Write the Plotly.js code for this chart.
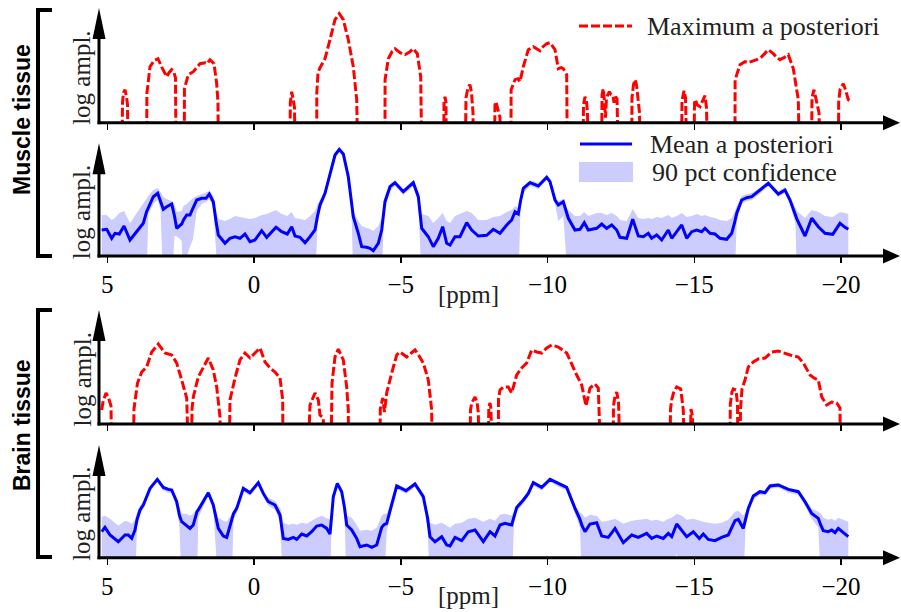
<!DOCTYPE html>
<html><head><meta charset="utf-8">
<script src="https://cdn.plot.ly/plotly-3.0.1.min.js"></script>
<style>html,body{margin:0;padding:0;background:#fff}#chart{width:901px;height:612px}</style>
</head><body><div id="chart"></div>
<script>
// ---------------- DATA (ppm vs log amplitude, arbitrary units) ----------------
const tickValues = [5, 0, -5, -10, -15, -20];
const groupLabels = ["Muscle tissue", "Brain tissue"];
const legendLabels = ["Maximum a posteriori", "Mean a posteriori", "90 pct confidence"];

// Muscle tissue, maximum a posteriori (values of -30 lie far below the visible range)
const mapMuscleX = [4.497,4.48,4.446,4.395,4.344,4.31,4.293,
 3.656,3.65,3.543,3.407,3.271,3.135,2.974,2.896,2.804,2.726,2.675,2.658,
 2.375,2.37,2.239,2.068,1.942,1.840,1.670,1.601,1.499,1.363,1.271,1.227,1.216,
 -1.227,-1.237,-1.285,-1.329,-1.380,-1.397,
 -2.136,-2.14,-2.181,-2.249,-2.419,-2.589,-2.760,-2.906,-3.043,-3.213,-3.383,-3.499,-3.533,
 -4.463,-4.466,-4.576,-4.702,-4.804,-4.974,-5.145,-5.315,-5.428,-5.564,-5.680,-5.714,
 -6.467,-6.474,-6.508,-6.542,-6.552,
 -7.199,-7.223,-7.291,-7.359,-7.411,-7.462,-7.472,
 -8.194,-8.211,-8.245,-8.313,-8.382,-8.392,
 -8.756,-8.76,-8.893,-8.995,-9.063,-9.176,-9.346,-9.516,-9.642,-9.744,-9.847,-9.973,-10.085,-10.187,-10.256,-10.368,-10.460,-10.538,-10.654,-10.675,
 -11.210,-11.227,-11.278,-11.329,-11.363,-11.380,
 -11.847,-11.857,-11.901,-11.942,-11.976,-12.010,-12.106,-12.164,-12.232,-12.266,-12.317,-12.368,-12.402,-12.412,
 -12.869,-12.879,-12.930,-12.981,-13.032,-13.083,-13.135,-13.152,
 -14.566,-14.583,-14.651,-14.702,-14.736,-14.746,
 -14.991,-15.009,-15.043,-15.094,-15.196,-15.264,-15.366,-15.417,-15.451,
 -16.388,-16.392,-16.559,-16.729,-16.831,-16.957,-17.128,-17.298,-17.411,-17.523,-17.693,-17.819,-17.922,-18.058,-18.204,-18.296,-18.375,-18.545,-18.579,
 -18.995,-19.012,-19.080,-19.172,-19.250,-19.284,
 -19.915,-19.92,-19.966,-20.078,-20.153,-20.249,-20.307];
const mapMuscleY = [-30,20,30,33,26,18,-30,
 -30,29,56,62,64,55,46,50,53,50,45,-30,
 -30,34,48,51,56,59,60,59,63,59,39,20,-30,
 -30,20,31,24,15,-30,
 -30,30,50,55,64,83,103,109,103,83,56,23,-30,
 -30,43,64,71,74,70,68,71,74,69,46,-30,
 -30,20,26,20,-30,
 -30,25,35,38,30,10,-30,
 -30,18,21,14,5,-30,
 -30,33,43,44,41,56,73,76,74,72,76,79,80,76,73,54,55,54,48,-30,
 -30,18,26,22,10,-30,
 -30,28,34,20,5,25,31,28,27,20,26,24,10,-30,
 -30,25,38,43,38,25,10,-30,
 -30,22,32,25,5,-30,
 -30,20,23,18,16,20,27,15,-30,
 -30,43,58,61,60,61,63,66,70,73,69,65,63,65,68,60,54,23,-30,
 -30,25,33,21,10,-30,
 -30,20,33,39,33,23,22];

// Muscle tissue, mean a posteriori with 90 pct band (10 points per line)
const meanMuscleX = [
 5.189,5.019,4.848,4.736,4.589,4.429,4.225,3.997,3.772,3.663,
 3.601,3.431,3.281,3.186,3.090,2.974,2.804,2.709,2.634,2.463,
 2.402,2.293,2.181,2.078,1.952,1.782,1.635,1.523,1.387,1.295,
 1.216,0.988,0.818,0.647,0.477,0.307,0.136,-0.034,-0.262,-0.433,
 -0.750,-0.944,-1.135,-1.285,-1.397,-1.567,-1.738,-1.908,-2.078,-2.164,
 -2.249,-2.419,-2.589,-2.760,-2.906,-3.043,-3.213,-3.322,-3.383,-3.554,
 -3.670,-3.840,-3.952,-4.065,-4.235,-4.351,-4.412,-4.463,-4.634,-4.804,
 -5.087,-5.428,-5.598,-5.673,-5.714,-5.939,-6.109,-6.279,-6.429,-6.566,
 -6.678,-6.848,-7.019,-7.247,-7.417,-7.642,-7.928,-8.153,-8.382,-8.610,
 -8.780,-8.893,-9.005,-9.080,-9.176,-9.404,-9.687,-9.973,-10.085,-10.256,
 -10.368,-10.538,-10.648,-10.709,-10.937,-11.107,-11.254,-11.390,-11.676,-11.847,
 -12.017,-12.188,-12.358,-12.470,-12.699,-12.903,-13.094,-13.264,-13.434,-13.550,
 -13.721,-13.891,-14.116,-14.232,-14.402,-14.573,-14.743,-14.913,-15.084,-15.254,
 -15.366,-15.537,-15.707,-15.877,-16.106,-16.276,-16.372,-16.447,-16.617,-16.787,
 -16.958,-17.183,-17.523,-17.864,-18.092,-18.262,-18.450,-18.501,-18.774,-19.002,
 -19.227,-19.455,-19.717,-19.966,-20.137,-20.249];
const meanMuscleY = [
 26,26.7,17.7,22.7,22,30,16,24.3,32.7,44,
 47.7,59.3,62.7,55,46.7,49.3,52,40,27.7,32,
 36,41,41,48,56,57.7,57.7,62,54.3,35,
 21,12.7,17.7,19.3,17.7,22,14.3,16,25.3,18.7,
 28.7,24.3,22,29.3,20,18.7,13.3,19.3,26,40,
 51,62.7,82.7,101,106.7,102,79.3,55,39.3,22.7,
 9.3,8.7,7.7,5.3,12.7,26,40,54.3,69.3,73.3,
 64.3,73.3,59.3,40,27.7,19.3,9.3,17.7,29.3,12.7,
 11,19.3,19.3,33.3,26,20,20.7,26.7,22.7,31,
 36,44.3,42,55,67.7,73.3,70,78.7,74.3,56,
 51,54.3,42,37.7,26,26.7,33.3,26,27.7,32,
 27.7,31,26,18.7,17.7,36.7,20,19.3,22.7,17.7,
 21,16,26,17.7,24.3,31,17.7,24.3,26,24.3,
 27.7,22.7,22,17.7,16.7,22.7,33,42.7,56,58.3,
 59.3,64.3,72.7,62,66,56,40,36.7,20,37.7,
 29.3,22.7,21.7,32.7,28.7,26.7];
const upperMuscleY = [
 41,41,36,38,43,45,33,43,52,57,
 60,66,68,64,59,57,55,52,44,45,
 50,52,55,58,60,62,63,65,60,45,
 37,35,37,40,39,38,37,38,41,42,
 46,42,40,44,38,37,36,40,45,52,
 56,66,85,103,108,104,82,60,45,35,
 30,28,27,25,30,38,50,60,72,76,
 67,76,63,50,42,40,33,38,43,35,
 33,40,42,45,43,36,36,39,40,44,
 46,50,48,60,70,76,73,81,77,60,
 55,57,48,46,40,40,44,40,43,43,
 41,43,40,36,35,47,38,37,38,37,
 39,38,41,38,40,43,39,40,42,40,
 41,39,38,36,35,38,44,50,60,62,
 63,67,75,65,69,60,48,45,38,46,
 44,40,39,44,43,42];
const lowerMuscleY = [
 -30,-30,-30,-30,-30,-30,-30,-30,-30,-30,
 42,52,56,46,-30,-30,-30,20,20,15,
 -30,0,10,17,45,52,54,57,48,-30,
 -30,-30,-30,-30,-30,-30,-30,-30,-30,-30,
 -30,-30,-30,-30,-30,-30,-30,-30,-30,30,
 45,58,79,98,104,99,75,48,-30,-30,
 -30,-30,-30,-30,-30,-30,30,48,65,70,
 61,70,55,-30,-30,-30,-30,-30,-30,-30,
 -30,-30,-30,-30,-30,-30,-30,-30,-30,-30,
 -30,-30,-30,48,63,70,67,76,71,52,
 35,40,-30,-30,-30,-30,-30,-30,-30,-30,
 -30,-30,-30,-30,-30,-30,-30,-30,-30,-30,
 -30,-30,-30,-30,-30,-30,-30,-30,-30,-30,
 -30,-30,-30,-30,-30,-30,-30,35,52,55,
 56,61,70,59,63,52,32,-30,-30,-30,
 -30,-30,-30,-30,-30,-30];

// Brain tissue, maximum a posteriori
const mapBrainX = [5.189,5.145,5.043,4.964,4.872,4.848,
 4.112,4.089,3.969,3.826,3.656,3.486,3.261,3.032,2.804,2.634,2.463,2.293,2.239,
 2.129,2.112,2.068,1.898,1.727,1.557,1.387,1.271,1.158,1.135,
 0.842,0.818,0.647,0.477,0.307,0.136,-0.034,-0.204,-0.375,-0.545,-0.716,-0.886,-0.978,-0.988,
 -1.850,-1.908,-2.078,-2.191,-2.249,-2.361,-2.385,
 -2.624,-2.658,-2.760,-2.872,-3.043,-3.158,-3.213,-3.220,
 -4.293,-4.303,-4.385,-4.446,-4.480,-4.521,-4.692,-4.862,-4.974,-5.203,-5.315,-5.486,-5.588,-5.768,-5.939,-6.055,-6.065,
 -7.359,-7.376,-7.417,-7.530,-7.598,-7.642,-7.666,
 -7.983,-8.000,-8.041,-8.075,-8.099,
 -8.324,-8.33,-8.382,-8.494,-8.664,-8.780,-8.951,-9.121,-9.291,-9.462,-9.632,-9.802,-9.973,-10.143,-10.368,-10.654,-10.825,-10.995,-11.165,-11.312,-11.448,-11.618,-11.731,-11.789,-11.806,
 -12.232,-12.249,-12.300,-12.358,-12.419,-12.453,-12.470,
 -14.174,-14.191,-14.232,-14.310,-14.402,-14.538,-14.627,-14.668,
 -14.855,-14.866,-14.889,-14.940,-14.957,
 -16.218,-16.228,-16.286,-16.331,-16.422,-16.474,-16.491,-16.559,-16.576,-16.627,-16.729,-16.842,-17.012,-17.182,-17.411,-17.639,-17.864,-18.034,-18.262,-18.545,-18.716,-18.944,-19.080,-19.227,-19.343,-19.513,-19.684,-19.854,-19.966,-19.983];
const mapBrainY = [14,22,31,27,18,-30,
 -30,15,41,52,57,72,80,71,69,61,44,26,-30,
 -30,15,27,47,57,66,54,37,7,-30,
 -30,24,46,64,71,66,71,76,62,56,52,46,24,-30,
 -30,19,31,24,9,6,-30,
 -30,41,67,75,64,37,14,-30,
 -30,15,26,12,20,31,51,69,72,67,70,74,70,61,44,14,-30,
 -30,14,21,27,22,12,-30,
 -30,17,21,15,-30,
 -30,25,34,37,37,31,49,56,61,74,72,71,76,79,77,71,59,49,39,18,36,40,36,7,-30,
 -30,18,28,32,22,8,-30,
 -30,15,24,33,37,35,14,-30,
 -30,12,15,8,-30,
 -30,20,32,35,34,20,-30,-30,15,35,44,57,62,65,66,72,73,71,69,67,61,49,46,44,27,19,22,21,16,-30];

// Brain tissue, mean a posteriori with 90 pct band (10 points per line)
const meanBrainX = [
 5.189,5.077,4.906,4.624,4.395,4.283,4.167,4.055,3.986,3.884,
 3.772,3.543,3.295,3.090,2.920,2.804,2.634,2.538,2.463,2.317,
 2.181,2.068,1.942,1.898,1.727,1.557,1.387,1.295,1.216,1.046,
 0.930,0.760,0.698,0.589,0.365,0.136,-0.147,-0.317,-0.487,-0.716,
 -0.886,-0.971,-0.998,-1.169,-1.339,-1.455,-1.625,-1.796,-1.966,-2.136,
 -2.307,-2.477,-2.589,-2.641,-2.702,-2.838,-2.988,-3.084,-3.158,-3.329,
 -3.499,-3.612,-3.840,-4.010,-4.181,-4.351,-4.429,-4.521,-4.692,-4.862,
 -5.179,-5.486,-5.768,-5.912,-5.997,-6.167,-6.395,-6.566,-6.678,-6.848,
 -7.077,-7.302,-7.530,-7.813,-8.041,-8.211,-8.382,-8.552,-8.780,-8.859,
 -8.951,-9.176,-9.346,-9.516,-9.802,-10.085,-10.368,-10.654,-10.937,-11.107,
 -11.176,-11.278,-11.448,-11.676,-11.847,-12.072,-12.300,-12.583,-12.869,-13.094,
 -13.380,-13.550,-13.721,-13.946,-14.116,-14.232,-14.402,-14.573,-14.743,-14.968,
 -15.172,-15.309,-15.479,-15.707,-15.935,-16.160,-16.389,-16.501,-16.671,-16.746,
 -16.842,-17.012,-17.240,-17.411,-17.581,-17.864,-18.204,-18.545,-18.774,-19.002,
 -19.227,-19.319,-19.397,-19.568,-19.683,-19.796,-19.908,-20.079,-20.249];
const meanBrainY = [
 26,30.3,22.7,16,22.7,22.7,19.3,27.7,38,47.7,
 52.7,69.3,78.3,70.3,68.3,67.7,56,42,36,32.7,
 29.3,32.7,46,47.7,56,65,52.7,40,29.3,21.7,
 20.3,37.7,44,49.3,69.3,65,75,64.3,56,52.7,
 42.7,25,19.3,18.3,20.3,18.3,23.7,21.7,26,31.7,
 32.7,29.3,23.7,40,61,74.3,66,50,32.7,27.7,
 19.3,11,12.7,10.3,12.7,30.3,33,34.3,54.3,71.7,
 67,73.7,61,40,21,16,21,12.7,11.7,20.3,
 17,26,27.7,16,26,21.7,32.7,34.3,32.7,42,
 50.3,57.7,64.3,75,70.3,78.3,74.3,70.3,49.3,38.3,
 32,26,33.7,35,21.7,20.3,29.3,15,22.7,20.3,
 24.3,19.3,21.7,19.3,24.3,21,33.7,27.7,21,26,
 19.3,23.7,18.3,17,20.3,22.7,37,38.3,29.3,38,
 49.3,61.7,66,65,71.7,72.7,68.3,66,56,44.3,
 39.3,32,27,26,27.7,25,29.3,25,21];
const upperBrainY = [
 41,42,39,32,37,36,34,38,45,52,
 56,72,80,72,70,70,60,50,44,44,
 42,44,50,52,59,67,56,46,40,37,
 36,44,48,52,71,67,77,67,60,57,
 50,40,35,33,34,33,35,34,37,40,
 42,40,38,48,64,76,68,55,42,40,
 33,27,28,27,30,42,44,44,58,74,
 69,76,64,46,35,33,35,32,30,34,
 35,39,40,36,39,37,43,44,42,46,
 53,60,67,77,72,80,76,72,53,45,
 44,40,43,42,36,37,39,34,37,38,
 39,37,38,36,39,40,44,42,38,39,
 37,36,35,34,35,38,46,47,42,46,
 53,64,68,67,74,75,70,68,59,49,
 46,44,40,38,39,37,40,38,36];
const lowerBrainY = [
 -30,-30,-30,-30,-30,-30,-30,-30,30,43,
 49,66,76,67,65,64,50,30,-30,-30,
 -30,-30,-30,40,52,62,48,-30,-30,-30,
 -30,-30,38,45,66,62,72,61,52,48,
 36,-30,-30,-30,-30,-30,-30,-30,-30,-30,
 -30,-30,-30,30,56,72,62,40,-30,-30,
 -30,-30,-30,-30,-30,-30,-30,25,50,69,
 64,71,57,30,-30,-30,-30,-30,-30,-30,
 -30,-30,-30,-30,-30,-30,-30,-30,-30,35,
 46,54,61,72,67,76,71,67,45,30,
 -30,-30,-30,-30,-30,-30,-30,-30,-30,-30,
 -30,-30,-30,-30,-30,-30,5,-30,-30,-30,
 -30,-30,-30,-30,-30,-30,-30,-30,-30,30,
 45,58,63,62,69,70,65,63,52,39,
 30,-30,-30,-30,-30,-30,-30,-30,-30];

// ---------------- LAYOUT HELPERS (pixel geometry) ----------------
const W = 901, H = 612;
const fx = p => p / W, fy = p => 1 - p / H;
const X0 = 99, X1 = 885;                  // plot x extent in px
const panels = [ {ax:122.7, top:8}, {ax:256, top:143.3}, {ax:424, top:310}, {ax:557.7, top:445} ];
const xRange = [(254 - X0) / 29.35, (254 - X1) / 29.35];

const RED = 'rgb(255,0,0)', BLUE = 'rgb(0,0,255)', BAND = 'rgb(204,204,255)';
const SERIF = 'Liberation Serif, Times New Roman, serif';

const traces = [
  {x: mapMuscleX, y: mapMuscleY, xaxis:'x', yaxis:'y', mode:'lines', line:{color:RED, width:3, dash:'9px,3px'}, hoverinfo:'skip'},
  {x: meanMuscleX, y: upperMuscleY, xaxis:'x2', yaxis:'y2', mode:'lines', line:{width:0, color:BAND}, hoverinfo:'skip'},
  {x: meanMuscleX, y: lowerMuscleY, xaxis:'x2', yaxis:'y2', mode:'lines', line:{width:0, color:BAND}, fill:'tonexty', fillcolor:BAND, hoverinfo:'skip'},
  {x: meanMuscleX, y: meanMuscleY, xaxis:'x2', yaxis:'y2', mode:'lines', line:{color:BLUE, width:3}, hoverinfo:'skip'},
  {x: mapBrainX, y: mapBrainY, xaxis:'x3', yaxis:'y3', mode:'lines', line:{color:RED, width:3, dash:'9px,3px'}, hoverinfo:'skip'},
  {x: meanBrainX, y: upperBrainY, xaxis:'x4', yaxis:'y4', mode:'lines', line:{width:0, color:BAND}, hoverinfo:'skip'},
  {x: meanBrainX, y: lowerBrainY, xaxis:'x4', yaxis:'y4', mode:'lines', line:{width:0, color:BAND}, fill:'tonexty', fillcolor:BAND, hoverinfo:'skip'},
  {x: meanBrainX, y: meanBrainY, xaxis:'x4', yaxis:'y4', mode:'lines', line:{color:BLUE, width:3}, hoverinfo:'skip'}
];

const layout = {
  width: W, height: H, margin:{l:0,r:0,t:0,b:0}, showlegend:false,
  paper_bgcolor:'#fff', plot_bgcolor:'rgba(0,0,0,0)',
  shapes: [], annotations: []
};
panels.forEach((p, i) => {
  const n = i === 0 ? '' : String(i + 1);
  layout['xaxis' + n] = {
    domain:[fx(X0), fx(X1)], range:xRange, anchor:'y' + n,
    tickmode:'array', tickvals:tickValues, ticks:'outside', ticklen:6, tickwidth:1.5, tickcolor:'#000',
    showticklabels: (i === 1 || i === 3), tickfont:{family:SERIF, size:25, color:'#000'},
    showline:false, zeroline:false, showgrid:false, fixedrange:true
  };
  layout['yaxis' + n] = {
    domain:[fy(p.ax), fy(p.top)], range:[0, p.ax - p.top], anchor:'x' + n,
    showline:false, zeroline:false, showgrid:false, showticklabels:false, ticks:'', fixedrange:true
  };
  // axis lines and arrows
  layout.shapes.push({type:'line', xref:'paper', yref:'paper', x0:fx(97.5), x1:fx(886), y0:fy(p.ax), y1:fy(p.ax), line:{color:'#000', width:3}});
  layout.shapes.push({type:'path', xref:'paper', yref:'paper',
    path:`M ${fx(883)} ${fy(p.ax-7.5)} L ${fx(900)} ${fy(p.ax)} L ${fx(883)} ${fy(p.ax+7.5)} Z`, fillcolor:'#000', line:{width:0}});
  layout.shapes.push({type:'line', xref:'paper', yref:'paper', x0:fx(99), x1:fx(99), y0:fy(p.ax+1.5), y1:fy(p.top+28), line:{color:'#000', width:3}});
  layout.shapes.push({type:'path', xref:'paper', yref:'paper',
    path:`M ${fx(92.5)} ${fy(p.top+31)} L ${fx(99)} ${fy(p.top)} L ${fx(105.5)} ${fy(p.top+31)} Z`, fillcolor:'#000', line:{width:0}});
  layout.annotations.push({xref:'paper', yref:'paper', x:fx(81.5), y:fy((p.ax + p.top)/2 + 13), text:'log ampl.', textangle:-90,
    showarrow:false, xanchor:'center', yanchor:'middle', font:{family:SERIF, size:25, color:'#222'}});
});
// x-axis titles
[294, 595].forEach(yy => layout.annotations.push({xref:'paper', yref:'paper', x:fx(468), y:fy(yy), text:'[ppm]',
  showarrow:false, xanchor:'center', yanchor:'middle', font:{family:SERIF, size:25, color:'#222'}}));
// group brackets and labels
[[10, 256, 120], [310, 557, 425]].forEach((b, i) => {
  layout.shapes.push({type:'path', xref:'paper', yref:'paper',
    path:`M ${fx(52)} ${fy(b[0])} L ${fx(38)} ${fy(b[0])} L ${fx(38)} ${fy(b[1])} L ${fx(52)} ${fy(b[1])}`, line:{color:'#000', width:4}});
  layout.annotations.push({xref:'paper', yref:'paper', x:fx(22), y:fy(b[2]), text:'<b>' + groupLabels[i] + '</b>', textangle:-90,
    showarrow:false, xanchor:'center', yanchor:'middle', font:{family:'Liberation Sans, Arial, sans-serif', size:23, color:'#000'}});
});
// legend
layout.shapes.push({type:'line', xref:'paper', yref:'paper', x0:fx(579), x1:fx(632), y0:fy(26), y1:fy(26), line:{color:RED, width:3, dash:'9px,3px'}});
layout.shapes.push({type:'line', xref:'paper', yref:'paper', x0:fx(580), x1:fx(632), y0:fy(144), y1:fy(144), line:{color:BLUE, width:3}});
layout.shapes.push({type:'rect', xref:'paper', yref:'paper', x0:fx(579), x1:fx(633), y0:fy(162), y1:fy(182), fillcolor:BAND, line:{width:0}});
[[645, 27, 0], [648, 144, 1], [650, 172, 2]].forEach(l => layout.annotations.push({xref:'paper', yref:'paper', x:fx(l[0]), y:fy(l[1]),
  text:legendLabels[l[2]], showarrow:false, xanchor:'left', yanchor:'middle', font:{family:SERIF, size:26, color:'#222'}}));

Plotly.newPlot('chart', traces, layout, {displayModeBar:false, staticPlot:true});
</script></body></html>
